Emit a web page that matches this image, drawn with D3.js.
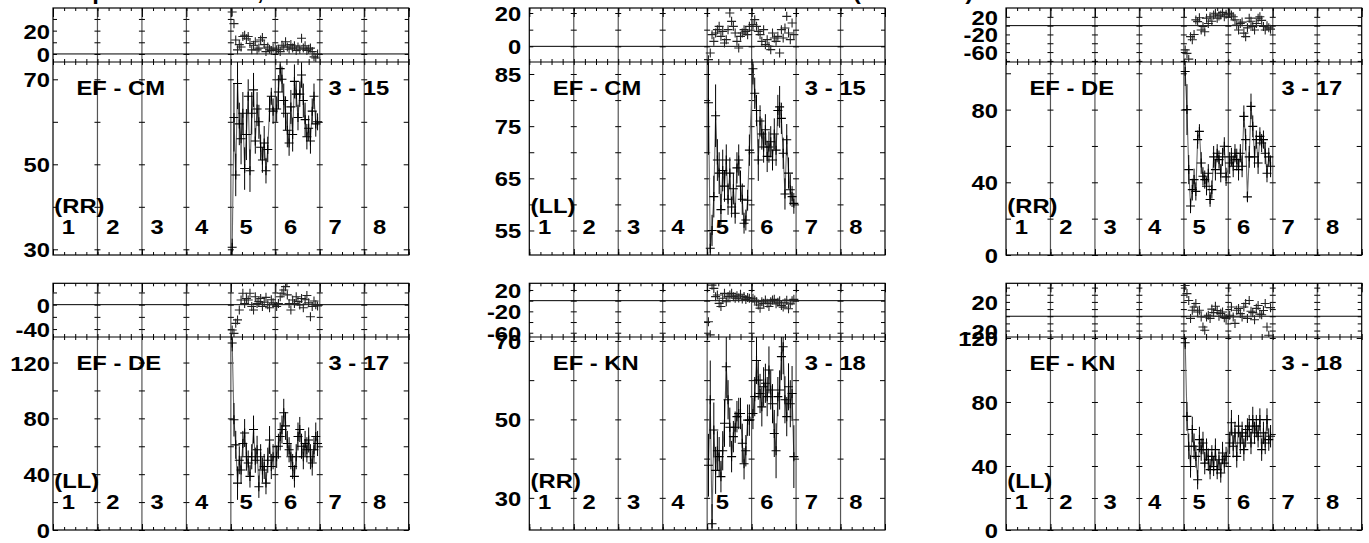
<!DOCTYPE html>
<html><head><meta charset="utf-8">
<script src="https://cdn.jsdelivr.net/npm/d3@7"></script>
<style>
body{margin:0;background:#fff}
svg{display:block}
text{font-family:"Liberation Sans",Arial,Helvetica,sans-serif;font-weight:bold;font-size:19.5px;fill:#000}
</style>
</head><body>
<svg id="c" width="1369" height="543"></svg>
<script>
// ---------- data ----------
const times = [4.03,4.07,4.11,4.15,4.19,4.23,4.27,4.31,4.35,4.39,4.43,4.47,4.51,4.55,4.59,4.63,4.67,4.71,4.75,4.79,4.83,4.87,4.91,4.95,
               5.03,5.07,5.11,5.15,5.19,5.23,5.27,5.31,5.35,5.39,5.43,5.47,5.51,5.55,5.59,5.63,5.67,5.71,5.75,5.79,5.83,5.87,5.91,5.95];
const columnLabels = ["1","2","3","4","5","6","7","8"];

// Panel A: EF - CM (RR) 3 - 15
const ampA = [30.5,61,47.5,69,59.5,56,62,49,57,66,48.5,62,67.5,55.5,63,60,54,51,55,48.5,53.5,63,66,62.5,
              63,67,72.5,70,65,62,58,55,63.5,57,69.5,66.5,61,66.5,71,65,60.5,56.5,58.5,55.5,62.5,66,59.5,60];
const errA = [2,8,5,6,5,6,5,5,6,4,5,5,4,3,4,4,3,3,4,3,3,3,2,3, 3,4,3,3,4,4,4,3,4,4,4,3,3,3,3,4,4,3,3,3,3,3,3,2];
const resA = [36,26,12,3.5,8,6,15,16,13,15,9,3.5,7.5,10.5,3.5,5,12,14,8,2,6,4,3,5,
              3.5,4,2,7.5,6,10.5,6,4,8,5,7,3,6,4,13.5,5,7,3,4,5,2,-2.5,-3.5,0];
// Panel B: EF - CM (LL) 3 - 15
const ampB = [79.5,51.6,55,61.5,77,68.5,66,59,66.5,63.5,68.5,61,66,59.5,63,58.3,67,68.5,63.5,61,56.4,57,60.8,70.4,
              86,81.3,78,68.5,76,73.5,71,74.3,69.2,71,72,68.5,73.5,70.4,78,78.7,76.5,69.8,62,72.4,66,62.8,61.5,60.2];
const errB = [10,3,3,4,6,4,4,3,4,3,3,3,3,2,3,2,3,3,3,3,2,2,2,3, 3,3,3,4,3,3,3,3,3,3,3,2,3,3,3,4,3,3,3,3,3,3,2,2];
const resB = [-8,-4,7,3,8,10,12,6,9,2,4,10,20,15,12,8,3,-1,6,8,10,9,7,12,
              13,16,12,9,7,3,10,1,4,0,-2,8,5,3,6,-4,10,5,11,18,8,4,14,7];
// Panel C: EF - DE (RR) 3 - 17
const ampC = [101,80,47,27,36,41.5,35,63.5,68,50.6,43.3,41.5,37.8,45,30.5,36,54,47,56,52.5,45,54,59.8,43,
              50.6,54,48.8,56,52.5,47,56,48.8,76.3,63.5,32,54,81.8,70.8,54,63.5,50.6,65.3,61.6,63.5,56,45,54,48.8];
const errC = [8,14,8,4,6,6,5,5,4,6,5,5,5,5,4,5,6,6,5,5,5,5,5,5, 6,5,6,5,6,6,5,6,6,6,3,6,7,6,6,5,6,5,5,5,6,5,5,6];
const resC = [-55,-63,-76,-25,-32,-20,13,9,18,-10,-2,-14,17,5,20,10,24,28,17,22,24,30,20,26,
              28,24,20,13,1.5,-10,5,8,-17,-25,-5,17,10,-2,-10,5,17,20,12,-2,-10,0,-5,-8];
// Panel D: EF - DE (LL) 3 - 17
const ampD = [134,79,61,33.6,50,43,62,69.5,52.5,48,38.4,52.5,72,50,57.5,31,52.5,43,45.5,33.6,50,64.5,45.5,52.5,
              52.5,60,67,72,84,74.6,62,57.5,52.5,45.5,38.4,52.5,67,72,60,52.5,62,57.5,64.5,52.5,48,57.5,67,62];
const errD = [6,12,10,12,10,10,9,10,10,9,8,9,10,9,10,8,9,9,9,8,9,10,9,9, 8,9,10,10,10,10,9,9,9,9,8,9,10,9,9,9,9,9,9,9,9,9,10,9];
const resD = [-41.5,-47,-30.6,-25,-8.7,7.6,18.6,2,10,7.6,18.6,-3,-8.7,13,2,5,10,-3,4,12,0,-5,8,3,
              -3,2,13,18.6,24,29.5,16,2,-8.7,7.6,2,13,5,-0.5,10,-5,8,15,3,-19.7,-3,6,0,-2];
// Panel E: EF - KN (RR) 3 - 18
const ampE = [38.3,55,23.4,47.3,37,42,40.5,35.4,42,49,63.4,55,48,40.5,45.6,48,50.7,51.5,51.5,43.9,38.7,42,49.8,49.8,
              51.5,55.8,65,60,56.6,53.2,58.3,59.2,55.8,62.6,57.5,54,46.4,42,55.8,57.5,66,68.5,55,50.7,58.3,54,56.6,40.5];
const errE = [8,10,5,7,6,5,5,4,5,6,8,5,5,4,4,4,4,4,4,5,4,4,4,4, 4,5,6,5,5,5,5,5,5,6,5,5,6,7,5,5,6,7,6,5,6,6,7,8];
const resE = [-39.4,-64,29,23,7.5,10.6,-5,-11,4.4,13.7,-2,7.5,10.6,13.7,7.5,4.4,9,5,12,3,8,2,6,4.4,
              4.4,1.2,-2,-8,-14,-2,-5,1.2,-5,-11,-2,1.2,2.5,-6,-3,0,-9,-12,-4,1,-15,-6,0,2.5];
// Panel F: EF - KN (LL) 3 - 18
const ampF = [117,71,52.3,39.7,62.8,52.3,46,31.4,56.5,50.2,54.4,41.8,50.2,43.9,37.7,46,39.7,50.2,37.7,43.9,35.6,48.1,41.8,46,
              54.4,67,52.3,60.7,46,64.9,54.4,60.7,50.2,58.6,62.8,64.9,54.4,69,60.7,64.9,58.6,69,50.2,60.7,54.4,69,56.5,58.6];
const errF = [4,9,8,7,8,8,7,6,8,7,7,7,7,7,6,7,6,7,6,6,6,7,6,6, 7,8,7,7,7,7,7,7,7,7,7,7,7,8,7,7,7,7,7,7,7,7,7,7];
const resF = [43,31.6,22,-3,8.4,13,17.7,6,8.4,-1,-15,-19.5,-1,1.4,-3,10,5,14,8,0,4,6,-2,-3,
              1.4,13,-1,-10,8.4,10.7,3.7,-1,13,17.7,-3,22,7,5,-5,11,15,3,2,8,17.7,-15,-26.5,12];

// tick values / labels
const yTicksA = [30,40,50,60,70], yLabelsA = [70,50,30], rTicksA = [0,10,20,30], rLabelsA = [20,0];
const yTicksB = [55,60,65,70,75,80,85], yLabelsB = [85,75,65,55], rTicksB = [0,10,20], rLabelsB = [20,0];
const yTicksC = [0,20,40,60,80,100], yLabelsC = [80,40,0], rTicksC = [-80,-60,-40,-20,0,20], rLabelsC = [20,-20,-60];
const yTicksD = [0,20,40,60,80,100,120], yLabelsD = [120,80,40,0], rTicksD = [-40,-20,0,20], rLabelsD = [0,-40];
const yTicksE = [30,40,50,60,70], yLabelsE = [70,50,30], rTicksE = [-60,-40,-20,0,20], rLabelsE = [20,-20,-60];
const yTicksF = [0,20,40,60,80,100,120], yLabelsF = [120,80,40,0], rTicksF = [-20,-10,0,10,20,30,40], rLabelsF = [20,-20];

const panels = [
  {col:0,row:0,base:"EF - CM",date:"3 - 15",pol:"(RR)",amp:ampA,err:errA,res:resA,yDom:[28.66,74.07],rDom:[-6.9,39.4],yT:yTicksA,yL:yLabelsA,rT:rTicksA,rL:rLabelsA},
  {col:1,row:0,base:"EF - CM",date:"3 - 15",pol:"(LL)",amp:ampB,err:errB,res:resB,yDom:[50.3,87.3],rDom:[-9.4,23],yT:yTicksB,yL:yLabelsB,rT:rTicksB,rL:rLabelsB},
  {col:2,row:0,base:"EF - DE",date:"3 - 17",pol:"(RR)",amp:ampC,err:errC,res:resC,yDom:[0,106.2],rDom:[-82.5,40],yT:yTicksC,yL:yLabelsC,rT:rTicksC,rL:rLabelsC},
  {col:0,row:1,base:"EF - DE",date:"3 - 17",pol:"(LL)",amp:ampD,err:errD,res:resD,yDom:[0,138.3],rDom:[-53,35],yT:yTicksD,yL:yLabelsD,rT:rTicksD,rL:rLabelsD},
  {col:1,row:1,base:"EF - KN",date:"3 - 18",pol:"(RR)",amp:ampE,err:errE,res:resE,yDom:[21.8,71],rDom:[-68,32.5],yT:yTicksE,yL:yLabelsE,rT:rTicksE,rL:rLabelsE},
  {col:2,row:1,base:"EF - KN",date:"3 - 18",pol:"(LL)",amp:ampF,err:errF,res:resF,yDom:[0,120.6],rDom:[-29,46],yT:yTicksF,yL:yLabelsF,rT:rTicksF,rL:rLabelsF}
];

// ---------- layout ----------
const colLeft = [53, 529.3, 1006], W = 355.7;
const rowTop = [8, 283.3], rowDiv = [62, 337], rowBot = [255, 530];
const labelGap = [3, 8, 8];
const SX = 1.22;

const svg = d3.select("#c");

function txt(g, x, y, s, anchor) {
  return g.append("text").attr("transform", `translate(${x},${y}) scale(${SX},1)`)
    .attr("text-anchor", anchor || "start").text(s);
}
function tickAxis(g, axis, tx, ty, color) {
  const a = g.append("g").attr("transform", `translate(${tx},${ty})`).call(axis);
  a.select(".domain").remove();
  a.selectAll("text").remove();
  a.selectAll("line").attr("stroke", color || "#000").attr("stroke-width", 1);
  return a;
}

// clipped title pieces along the top edge
txt(svg, 54, 0, "Amplitude");
txt(svg, 257, 0, ",");
txt(svg, 853, 0, "(UT hours)");

const quarters = d3.range(0, 8.001, 0.25);
const integers = d3.range(0, 9);
const inner = d3.range(1, 8);

panels.forEach((p, pi) => {
  const L = colLeft[p.col], T = rowTop[p.row], D = rowDiv[p.row], B = rowBot[p.row];
  const x = d3.scaleLinear().domain([0, 8]).range([L, L + W]);
  const y = d3.scaleLinear().domain(p.yDom).range([B, D]);
  const r = d3.scaleLinear().domain(p.rDom).range([D, T]);
  const g = svg.append("g");

  const defs = g.append("defs");
  defs.append("clipPath").attr("id", "cm" + pi).append("rect").attr("x", L).attr("y", D).attr("width", W).attr("height", B - D);
  defs.append("clipPath").attr("id", "cr" + pi).append("rect").attr("x", L).attr("y", T).attr("width", W).attr("height", D - T);

  // vertical grid lines
  g.selectAll(".grid").data(inner).join("line")
    .attr("x1", d => x(d)).attr("x2", d => x(d)).attr("y1", T).attr("y2", B)
    .attr("stroke", "#555").attr("stroke-width", 1.2);

  // ticks crossing gridlines
  inner.forEach(k => {
    tickAxis(g, d3.axisLeft(y).tickValues(p.yT).tickSize(3), x(k), 0);
    tickAxis(g, d3.axisRight(y).tickValues(p.yT).tickSize(3), x(k), 0);
    tickAxis(g, d3.axisLeft(r).tickValues(p.rT).tickSize(3), x(k), 0);
    tickAxis(g, d3.axisRight(r).tickValues(p.rT).tickSize(3), x(k), 0);
  });
  // edge ticks (inward)
  tickAxis(g, d3.axisRight(y).tickValues(p.yT).tickSize(5), L, 0);
  tickAxis(g, d3.axisLeft(y).tickValues(p.yT).tickSize(5), L + W, 0);
  tickAxis(g, d3.axisRight(r).tickValues(p.rT).tickSize(4), L, 0);
  tickAxis(g, d3.axisLeft(r).tickValues(p.rT).tickSize(4), L + W, 0);
  tickAxis(g, d3.axisBottom(x).tickValues(quarters).tickSize(3), 0, T);
  tickAxis(g, d3.axisBottom(x).tickValues(integers).tickSize(9), 0, T);
  tickAxis(g, d3.axisTop(x).tickValues(quarters).tickSize(3), 0, D);
  tickAxis(g, d3.axisBottom(x).tickValues(quarters).tickSize(3), 0, D);
  tickAxis(g, d3.axisTop(x).tickValues(quarters).tickSize(3), 0, B);
  tickAxis(g, d3.axisTop(x).tickValues(integers).tickSize(6), 0, B);

  // frame, divider, zero line
  g.append("rect").attr("x", L).attr("y", T).attr("width", W).attr("height", B - T)
    .attr("fill", "none").attr("stroke", "#000").attr("stroke-width", 1.2);
  g.append("line").attr("x1", L).attr("x2", L + W).attr("y1", D).attr("y2", D).attr("stroke", "#000").attr("stroke-width", 1.2);
  g.append("line").attr("x1", L).attr("x2", L + W).attr("y1", r(0)).attr("y2", r(0)).attr("stroke", "#000").attr("stroke-width", 1);

  // data
  const pts = times.map((t, i) => ({t, v: p.amp[i], e: p.err[i], rv: p.res[i]}));
  const dm = g.append("g").attr("clip-path", `url(#cm${pi})`);
  dm.append("path").datum(pts)
    .attr("d", d3.line().x(d => x(d.t)).y(d => y(d.v)))
    .attr("fill", "none").attr("stroke", "#6a6a6a").attr("stroke-width", 1.1);
  dm.selectAll(".eb").data(pts).join("line")
    .attr("x1", d => x(d.t)).attr("x2", d => x(d.t))
    .attr("y1", d => y(d.v - d.e)).attr("y2", d => y(d.v + d.e))
    .attr("stroke", "#000").attr("stroke-width", 1);
  const plus = d3.symbol().type(d3.symbolCross).size(1);
  dm.selectAll(".mk").data(pts).join("path")
    .attr("d", d => `M${x(d.t) - 4.5},${y(d.v)}H${x(d.t) + 4.5}M${x(d.t)},${y(d.v) - 4.5}V${y(d.v) + 4.5}`)
    .attr("stroke", "#000").attr("stroke-width", 1.1).attr("fill", "none");

  const dr = g.append("g").attr("clip-path", `url(#cr${pi})`);
  dr.selectAll(".rk").data(pts).join("path")
    .attr("d", d => `M${x(d.t) - 4.5},${r(d.rv)}H${x(d.t) + 4.5}M${x(d.t)},${r(d.rv) - 4.5}V${r(d.rv) + 4.5}`)
    .attr("stroke", "#222").attr("stroke-width", 1.1).attr("fill", "none");

  // tick labels
  const lx = L - labelGap[p.col];
  p.yL.forEach(v => txt(g, lx, y(v) + 8, String(v), "end"));
  p.rL.forEach(v => txt(g, lx, r(v) + 8, String(v), "end"));

  // panel texts
  txt(g, L + 23.5, D + 33, p.base);
  txt(g, L + 275.5, D + 33, p.date);
  txt(g, L + 1.3, B - 42, p.pol);
  columnLabels.forEach((s, k) => txt(g, x(k) + 15.3, B - 20.7, s, "middle"));
});
</script>
</body></html>
